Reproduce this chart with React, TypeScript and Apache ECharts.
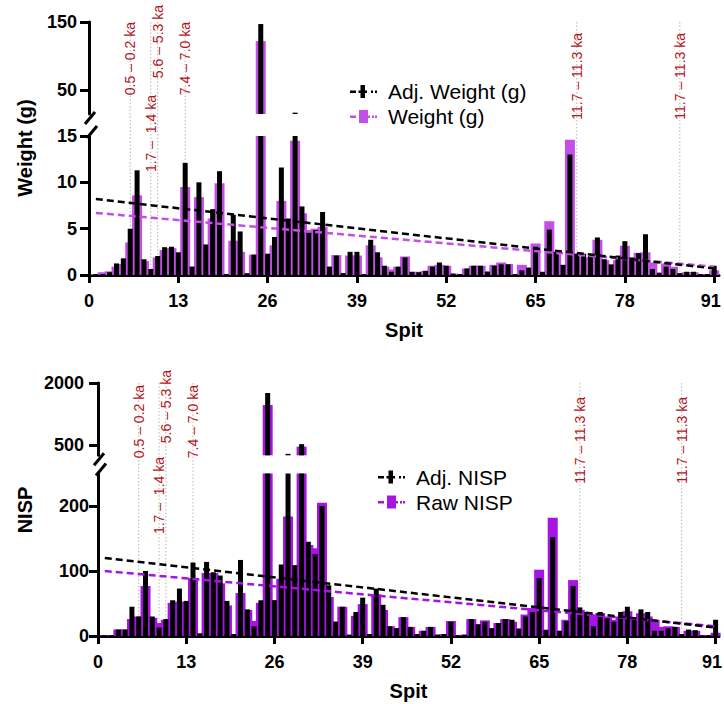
import React, { useEffect, useRef } from 'react';
import * as echarts from 'echarts';

// ---------------- DATA ----------------
const spits: number[] = Array.from({ length: 91 }, (_, i) => i + 1);

const weight: number[] = [
  0.1, 0.3, 0.4, 0.9, 1.2, 3.5, 8.6, 1.5, 0.6, 1.9,
  2.7, 2.9, 2.2, 9.5, 0.9, 8.4, 3.0, 6.1, 9.9, 0.1,
  3.7, 2.5, 0.1, 2.2, 122, 2.0, 3.2, 8.0, 5.5, 14.5,
  6.65, 4.5, 5.0, 5.2, 0.9, 2.15, 0.2, 2.1, 2.1, 0.1,
  3.2, 1.9, 0.9, 0.6, 0.9, 2.0, 0.3, 0.35, 0.45, 1.0,
  1.1, 1.0, 0.15, 0.1, 0.7, 1.0, 1.0, 0.4, 1.1, 1.35,
  1.2, 0.1, 1.1, 0.7, 3.4, 0.3, 5.8, 2.2, 1.0, 14.6,
  2.0, 1.9, 1.9, 3.8, 1.6, 1.0, 1.6, 3.15, 1.5, 2.4,
  2.45, 1.35, 0.3, 1.25, 0.9, 0.2, 0.3, 0.3, 0.1, 0.1,
  0.5,
];

const adjWeight: number[] = [
  0.1, 0.1, 0.3, 1.25, 1.8, 5.0, 11.3, 1.7, 0.65, 2.05,
  3.0, 3.05, 2.45, 12.1, 0.9, 10.0, 3.3, 7.1, 11.2, 0.1,
  6.5, 4.7, 0.2, 2.2, 147, 2.3, 4.1, 11.6, 6.1, 17,
  7.4, 4.6, 4.85, 6.8, 0.9, 2.1, 0.2, 2.5, 2.5, 0.1,
  3.8, 2.45, 1.0, 0.35, 0.9, 1.9, 0.35, 0.3, 0.45, 0.9,
  1.35, 1.0, 0.15, 0.1, 0.7, 1.0, 1.0, 0.35, 1.0, 1.15,
  1.15, 0.1, 0.5, 0.8, 3.05, 0.35, 4.9, 2.5, 1.1, 13.0,
  2.3, 2.3, 2.05, 4.05, 1.7, 1.15, 2.1, 3.65, 1.9, 2.35,
  4.4, 0.65, 0.2, 0.9, 0.65, 0.2, 0.35, 0.35, 0.1, 0.1,
  1.0,
];

const rawNisp: number[] = [
  1, 1, 10, 10, 26, 30, 77, 28, 20, 25,
  51, 53, 52, 89, 4, 97, 97, 81, 47, 3,
  66, 40, 23, 51, 1467, 55, 88, 184, 105, 460,
  140, 135, 205, 60, 22, 45, 2, 31, 49, 3,
  64, 40, 15, 12, 29, 14, 3, 8, 14, 2,
  3, 23, 1, 2, 26, 18, 24, 12, 20, 26,
  22, 12, 33, 43, 102, 10, 182, 8, 25, 86,
  40, 35, 33, 35, 30, 25, 30, 38, 25, 35,
  30, 22, 14, 15, 14, 3, 8, 8, 1, 1,
  5,
];

const adjNisp: number[] = [
  1, 1, 10, 10, 45, 30, 100, 30, 13, 26,
  55, 73, 54, 113, 4, 114, 98, 93, 54, 3,
  117, 41, 15, 55, 1758, 55, 110, 285, 109, 520,
  145, 126, 200, 78, 22, 45, 2, 37, 59, 3,
  73, 48, 15, 12, 29, 14, 3, 8, 14, 2,
  3, 22, 1, 2, 26, 18, 22, 12, 20, 26,
  25, 11, 30, 37, 89, 9, 152, 8, 23, 77,
  44, 37, 15, 37, 27, 22, 37, 45, 25, 41,
  37, 8, 8, 12, 14, 3, 10, 9, 1, 1,
  25,
];

// fitted trend lines (start / end values)
const weightTrend: number[][] = [[1, 6.7], [91, 0.9]];
const adjWeightTrend: number[][] = [[1, 8.2], [91, 0.7]];
const rawNispTrend: number[][] = [[1, 100], [91, 15]];
const adjNispTrend: number[][] = [[1, 120], [91, 13]];

const xTicks: number[] = [0, 13, 26, 39, 52, 65, 78, 91];
const weightUpperTicks: number[] = [50, 150];
const weightLowerTicks: number[] = [0, 5, 10, 15];
const nispUpperTicks: number[] = [500, 2000];
const nispLowerTicks: number[] = [0, 100, 200];

const annotationSpits: number[] = [6, 9, 10, 14, 71, 86];
const annotationLabels: string[] = [
  '0.5 – 0.2 ka', '1.7 –  1.4 ka', '5.6 – 5.3 ka', '7.4 – 7.0 ka', '11.7 – 11.3 ka', '11.7 – 11.3 ka',
];

// ---------------- STYLE / LAYOUT ----------------
const FONT = 'Arial, "Liberation Sans", Helvetica, sans-serif';
const PURPLE_W = '#c24fe6';
const PURPLE_N = '#a614e3';
const RED = '#b3141b';

const ADJ_ICON = 'path://M0,5.5h6v2.5h-6z M8.5,5.5h2v2.5h-2z M10.5,0h4.5v13h-4.5z M15,5.5h2v2.5h-2z M21,5.5h2v2.5h-2z M25,5.5h2v2.5h-2z';
const RAW_ICON = 'path://M0,5.5h6v2.5h-6z M9,0h9v13h-9z M18,5.5h2v2.5h-2z M22,5.5h2v2.5h-2z M25,5.5h2v2.5h-2z';

const panels = [
  {
    left: 89, width: 630, xMax: 91.7,
    upper: { top: 22, height: 92, min: 15, max: 150, ticks: weightUpperTicks, margin: 12 },
    lower: { top: 136, height: 139, min: 0, max: 15, ticks: weightLowerTicks, margin: 12 },
    raw: weight, adj: adjWeight, rawTrend: weightTrend, adjTrend: adjWeightTrend,
    rawName: 'Weight (g)', adjName: 'Adj. Weight (g)', purple: PURPLE_W,
    title: 'Weight (g)', titleY: 148, legendLeft: 345, legendTop: 76,
    annTops: [22, 95, 5, 22, 33, 33],
  },
  {
    left: 98, width: 621, xMax: 91.5,
    upper: { top: 383, height: 72.3, min: 250, max: 2000, ticks: nispUpperTicks, margin: 14 },
    lower: { top: 473.5, height: 162.5, min: 0, max: 250, ticks: nispLowerTicks, margin: 9 },
    raw: rawNisp, adj: adjNisp, rawTrend: rawNispTrend, adjTrend: adjNispTrend,
    rawName: 'Raw NISP', adjName: 'Adj. NISP', purple: PURPLE_N,
    title: 'NISP', titleY: 510, legendLeft: 373, legendTop: 461.5,
    annTops: [385, 457, 370, 385, 397, 397],
  },
];

const lastTick = xTicks[xTicks.length - 1];

function buildOption() {
  const grid: any[] = [];
  const xAxis: any[] = [];
  const yAxis: any[] = [];
  const series: any[] = [];
  const legend: any[] = [];

  panels.forEach((p, pi) => {
    const segs = [p.upper, p.lower];
    segs.forEach((seg, si) => {
      const gi = pi * 2 + si;
      const isLower = si === 1;
      grid.push({ left: p.left, top: seg.top, width: p.width, height: seg.height, outerBoundsMode: 'none', containLabel: false });
      const xCommon = {
        type: 'value', gridIndex: gi, min: 0, max: p.xMax,
        splitLine: { show: false },
      };
      xAxis.push({
        ...xCommon,
        show: isLower,
        axisLine: { show: true, onZero: false, lineStyle: { color: '#000', width: 3 } },
        axisTick: { show: true, customValues: xTicks, length: 8, lineStyle: { color: '#000', width: 3 } },
        axisLabel: {
          customValues: xTicks, fontSize: 18, fontWeight: 'bold', color: '#000', fontFamily: FONT, margin: 17,
          formatter: (v: number) => (v === lastTick ? `{e|${v}}` : String(v)),
          rich: { e: { fontSize: 18, fontWeight: 'bold', color: '#000', fontFamily: FONT, padding: [0, 7, 0, 0] } },
        },
        name: isLower ? 'Spit' : '',
        nameLocation: 'middle', nameGap: 45,
        nameTextStyle: { fontSize: 20, fontWeight: 'bold', color: '#000', fontFamily: FONT },
      });
      xAxis.push({ ...xCommon, show: false });
      yAxis.push({
        type: 'value', gridIndex: gi, min: seg.min, max: seg.max,
        splitLine: { show: false },
        axisLine: { show: true, onZero: false, lineStyle: { color: '#000', width: 3 } },
        axisTick: { show: true, customValues: seg.ticks, length: 9, lineStyle: { color: '#000', width: 3 } },
        axisLabel: {
          customValues: seg.ticks, fontSize: 18, fontWeight: 'bold', color: '#000', fontFamily: FONT, margin: seg.margin,
          formatter: (v: number) => String(v),
        },
      });

      const xMain = gi * 2;
      const xAdj = gi * 2 + 1;
      const keep = (v: number) => (isLower ? true : v > seg.min);
      series.push({
        type: 'bar', name: p.rawName, xAxisIndex: xMain, yAxisIndex: gi,
        data: spits.map((s, i) => [s, p.raw[i]]).filter((d) => keep(d[1])),
        barWidth: 10, itemStyle: { color: p.purple }, clip: true, silent: true, z: 2,
      });
      series.push({
        type: 'bar', name: p.adjName, xAxisIndex: xAdj, yAxisIndex: gi,
        data: spits.map((s, i) => [s, p.adj[i]]).filter((d) => keep(d[1])),
        barWidth: 5, itemStyle: { color: '#000' }, clip: true, silent: true, z: 3,
      });
      if (isLower) {
        series.push({
          type: 'line', name: p.rawName + ' trend', xAxisIndex: xMain, yAxisIndex: gi,
          data: p.rawTrend, symbol: 'none', silent: true, z: 4,
          lineStyle: { color: p.purple, width: 2.5, type: [7, 4] },
        });
        series.push({
          type: 'line', name: p.adjName + ' trend', xAxisIndex: xMain, yAxisIndex: gi,
          data: p.adjTrend, symbol: 'none', silent: true, z: 5,
          lineStyle: { color: '#000', width: 2.5, type: [7, 4] },
        });
      }
    });

    legend.push({
      left: p.legendLeft, top: p.legendTop, orient: 'vertical',
      itemWidth: 27, itemHeight: 13, itemGap: 4, selectedMode: false,
      data: [{ name: p.adjName, icon: ADJ_ICON }, { name: p.rawName, icon: RAW_ICON }],
      textStyle: { fontSize: 21, fontFamily: FONT, color: '#000', padding: [0, 0, 0, 6] },
    });
  });

  return { animation: false, backgroundColor: '#fff', grid, xAxis, yAxis, series, legend };
}

function buildGraphics(chart: any) {
  const g: any[] = [];
  panels.forEach((p, pi) => {
    const xMainLower = (pi * 2 + 1) * 2;
    g.push({
      type: 'text', x: 25, y: p.titleY, rotation: Math.PI / 2, z: 10,
      style: {
        text: p.title, font: `bold 20px ${FONT}`, fill: '#000',
        align: 'center', verticalAlign: 'middle', textAlign: 'center', textVerticalAlign: 'middle',
      },
    });
    const upperBottom = p.upper.top + p.upper.height;
    const slashes = [
      [p.left + 1, upperBottom + 4],
      [p.left + 3, p.lower.top - 4],
    ];
    slashes.forEach(([cx, cy]) => {
      g.push({
        type: 'line', z: 10, silent: true,
        shape: { x1: cx - 5, y1: cy + 6, x2: cx + 5, y2: cy - 6 },
        style: { stroke: '#000', lineWidth: 3 },
      });
    });
    annotationSpits.forEach((s, i) => {
      const x = chart.convertToPixel({ xAxisIndex: xMainLower }, s);
      g.push({
        type: 'line', z: 0, silent: true,
        shape: { x1: x, y1: p.upper.top, x2: x, y2: p.lower.top + p.lower.height },
        style: { stroke: '#b5b5b5', lineWidth: 1, lineDash: [1.5, 2] },
      });
      g.push({
        type: 'text', z: 10, silent: true, x, y: p.annTops[i], rotation: Math.PI / 2,
        style: {
          text: annotationLabels[i], font: `14px ${FONT}`, fill: RED,
          align: 'right', verticalAlign: 'middle', textAlign: 'right', textVerticalAlign: 'middle',
        },
      });
    });
  });
  return g;
}

export default function App() {
  const ref = useRef<HTMLDivElement>(null);
  useEffect(() => {
    if (!ref.current) return;
    const chart = echarts.init(ref.current, null, { renderer: 'svg' });
    chart.setOption(buildOption() as any);
    chart.setOption({ graphic: { elements: buildGraphics(chart) } } as any);
    return () => chart.dispose();
  }, []);
  return (
    <div
      ref={ref}
      style={{ position: 'absolute', left: 0, top: 0, width: 724, height: 704, background: '#fff' }}
    />
  );
}
